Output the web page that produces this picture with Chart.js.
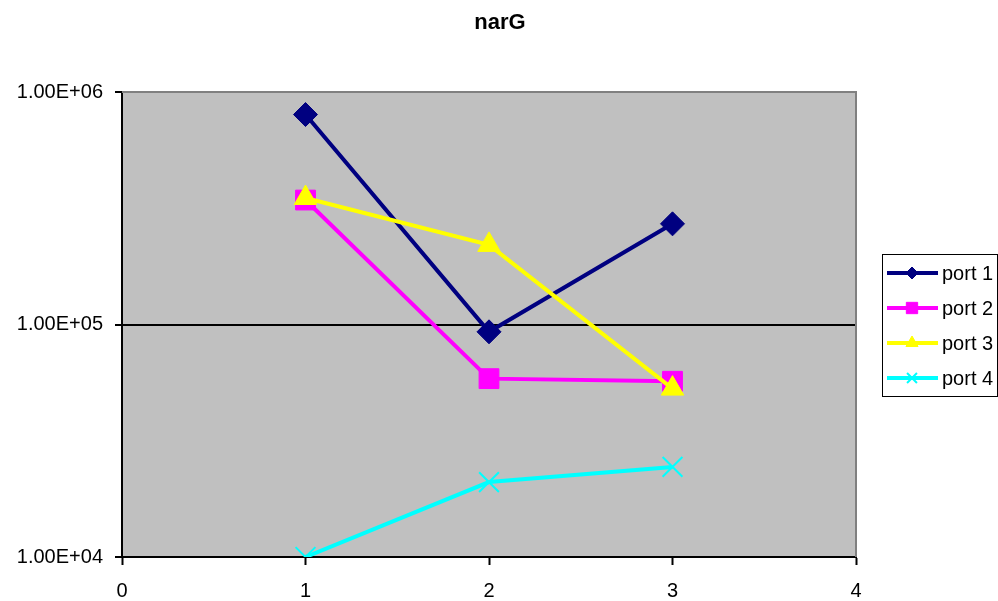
<!DOCTYPE html>
<html>
<head>
<meta charset="utf-8">
<title>narG</title>
<script src="https://cdn.jsdelivr.net/npm/chart.js@4.4.0/dist/chart.umd.min.js"></script>
<style>
    html, body { margin: 0; padding: 0; background: #fff; }
    #wrap { width: 998px; height: 601px; }
</style>
</head>
<body>
<div id="wrap"><canvas id="lineChart" width="998" height="601"></canvas></div>
<script>
// values
const categories = [1, 2, 3];
const port1 = [800000, 93000, 271000];
const port2 = [343000, 58500, 57000];
const port3 = [350000, 220000, 53000];
const port4 = [10000, 21000, 24400];
const seriesNames = ['port 1', 'port 2', 'port 3', 'port 4'];
const chartTitle = 'narG';
const xTickLabels = ['0', '1', '2', '3', '4'];
const yTickValues = [10000, 100000, 1000000];
const yTickLabels = ['1.00E+04', '1.00E+05', '1.00E+06'];

const FONT = "'Liberation Sans', Arial, sans-serif";

function toPoints(values) {
    return categories.map((c, i) => ({x: c, y: values[i]}));
}

function series(name, values, color, style, radius, order) {
    return {
        label: name,
        data: toPoints(values),
        showLine: true,
        borderColor: color,
        backgroundColor: color,
        borderWidth: 4,
        pointStyle: style,
        pointRadius: radius,
        pointHoverRadius: radius,
        pointBorderWidth: style === 'crossRot' ? 2 : 1,
        pointBackgroundColor: color,
        pointBorderColor: color,
        tension: 0,
        order: order
    };
}

// grey plot area, grey top/right border, title over the whole page, boxed legend
const excelLook = {
    id: 'excelLook',
    beforeDraw(chart) {
        const {ctx, chartArea: a} = chart;
        ctx.save();
        ctx.fillStyle = '#c0c0c0';
        ctx.fillRect(a.left, a.top, a.right - a.left, a.bottom - a.top);
        ctx.restore();
    },
    afterDraw(chart) {
        const {ctx, chartArea: a} = chart;
        ctx.save();
        ctx.strokeStyle = '#808080';
        ctx.lineWidth = 2;
        ctx.beginPath();
        ctx.moveTo(a.left, a.top);
        ctx.lineTo(a.right, a.top);
        ctx.lineTo(a.right, a.bottom);
        ctx.stroke();

        // title
        ctx.fillStyle = '#000';
        ctx.font = 'bold 22px ' + FONT;
        ctx.textAlign = 'center';
        ctx.textBaseline = 'middle';
        ctx.fillText(chartTitle, 500, 23);

        // legend
        const bx = 882, by = 254, bw = 115, bh = 142;
        ctx.fillStyle = '#fff';
        ctx.fillRect(bx, by, bw, bh);
        ctx.strokeStyle = '#000';
        ctx.lineWidth = 1;
        ctx.strokeRect(bx + 0.5, by + 0.5, bw, bh);
        const sizes = [6, 8, 7, 7];
        chart.data.datasets.forEach((ds, i) => {
            const y = by + 19 + i * 35;
            ctx.strokeStyle = ds.borderColor;
            ctx.lineWidth = 4;
            ctx.beginPath();
            ctx.moveTo(887, y);
            ctx.lineTo(938, y);
            ctx.stroke();
            const opts = {
                pointStyle: ds.pointStyle, radius: sizes[i], rotation: 0,
                borderWidth: ds.pointBorderWidth
            };
            ctx.fillStyle = ds.borderColor;
            ctx.strokeStyle = ds.borderColor;
            ctx.lineWidth = ds.pointBorderWidth;
            Chart.helpers.drawPoint(ctx, opts, 912, y);
            ctx.fillStyle = '#000';
            ctx.font = '20px ' + FONT;
            ctx.textAlign = 'left';
            ctx.textBaseline = 'middle';
            ctx.fillText(ds.label, 942, y + 1);
        });
        ctx.restore();
    }
};

let ctx = document.getElementById('lineChart').getContext('2d');
window.myLine = new Chart(ctx, {
    type: 'scatter',
    data: {
        datasets: [
            series(seriesNames[0], port1, '#000080', 'rectRot', 12, 4),
            series(seriesNames[1], port2, '#ff00ff', 'rect', 14, 3),
            series(seriesNames[2], port3, '#ffff00', 'triangle', 13, 2),
            series(seriesNames[3], port4, '#00ffff', 'crossRot', 14, 1)
        ]
    },
    options: {
        responsive: false,
        animation: false,
        layout: {padding: {left: 0, right: 142, top: 92, bottom: 0}},
        plugins: {
            legend: {display: false},
            tooltip: {enabled: false},
            title: {display: false}
        },
        scales: {
            x: {
                type: 'linear',
                min: 0,
                max: 4,
                afterFit: s => { s.height = 44; },
                afterBuildTicks: s => { s.ticks = xTickLabels.map(t => ({value: Number(t)})); },
                ticks: {
                    color: '#000',
                    font: {family: FONT, size: 20},
                    padding: 14,
                    maxRotation: 0,
                    callback: v => xTickLabels[v]
                },
                grid: {drawOnChartArea: false, tickLength: 8, tickColor: '#000', tickWidth: 2},
                border: {color: '#000', width: 2}
            },
            y: {
                type: 'logarithmic',
                min: 10000,
                max: 1000000,
                afterFit: s => { s.width = 122; },
                afterBuildTicks: s => { s.ticks = yTickValues.map(v => ({value: v})); },
                ticks: {
                    color: '#000',
                    font: {family: FONT, size: 20},
                    padding: 12,
                    callback: v => yTickLabels[yTickValues.indexOf(v)]
                },
                grid: {
                    color: c => (c.tick && c.tick.value === 1000000) ? '#808080' : '#000',
                    lineWidth: 2,
                    tickLength: 7,
                    tickColor: '#000'
                },
                border: {color: '#000', width: 2}
            }
        }
    },
    plugins: [excelLook]
});
</script>
</body>
</html>
